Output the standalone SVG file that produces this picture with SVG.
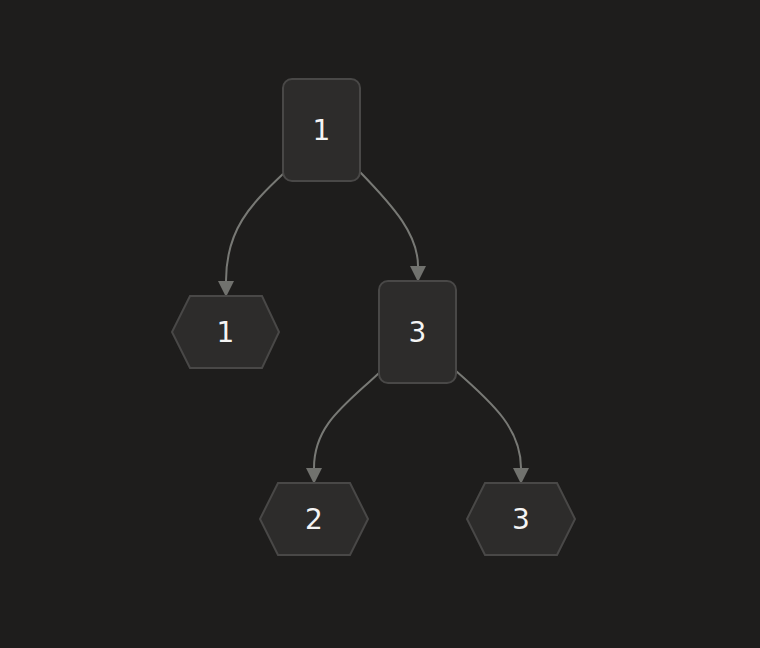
<svg xmlns="http://www.w3.org/2000/svg" width="760" height="648" viewBox="0 0 760 648">
<defs>
<style>
.node{fill:#2d2c2b;stroke:#494847;stroke-width:2}
.lbl{font-family:"DejaVu Sans",sans-serif;font-size:28px;fill:#f4f4f4;text-anchor:middle}
.edge{fill:none;stroke:#787975;stroke-width:2}
</style>
<marker id="arr" markerWidth="16" markerHeight="16" refX="0" refY="8" orient="auto" markerUnits="userSpaceOnUse" viewBox="0 0 16 16">
<path d="M0,0 L16,8 L0,16 Z" fill="#71726e"/>
</marker>
</defs>
<rect width="760" height="648" fill="#1e1d1c"/>
<g id="edges">
<path class="edge" d="M284,173 C250,205 226,230 226,281" marker-end="url(#arr)"/>
<path class="edge" d="M360,172 C395,208 418,235 418,266" marker-end="url(#arr)"/>
<path class="edge" d="M379,373 C345,405 314,425 314,468" marker-end="url(#arr)"/>
<path class="edge" d="M456,371 C495,405 521,430 521,468" marker-end="url(#arr)"/>
</g>
<g id="n1">
<rect class="node" x="283" y="79" width="77" height="102" rx="9"/>
<text class="lbl" x="321.5" y="140">1</text>
</g>
<g id="n3">
<rect class="node" x="379" y="281" width="77" height="102" rx="9"/>
<text class="lbl" x="417.5" y="342">3</text>
</g>
<g id="h1">
<polygon class="node" points="190,296 262,296 279,332 262,368 190,368 172,332"/>
<text class="lbl" x="225.5" y="342">1</text>
</g>
<g id="h2">
<polygon class="node" points="278,483 350,483 368,519 350,555 278,555 260,519"/>
<text class="lbl" x="314" y="529">2</text>
</g>
<g id="h3">
<polygon class="node" points="485,483 557,483 575,519 557,555 485,555 467,519"/>
<text class="lbl" x="521" y="529">3</text>
</g>
</svg>
